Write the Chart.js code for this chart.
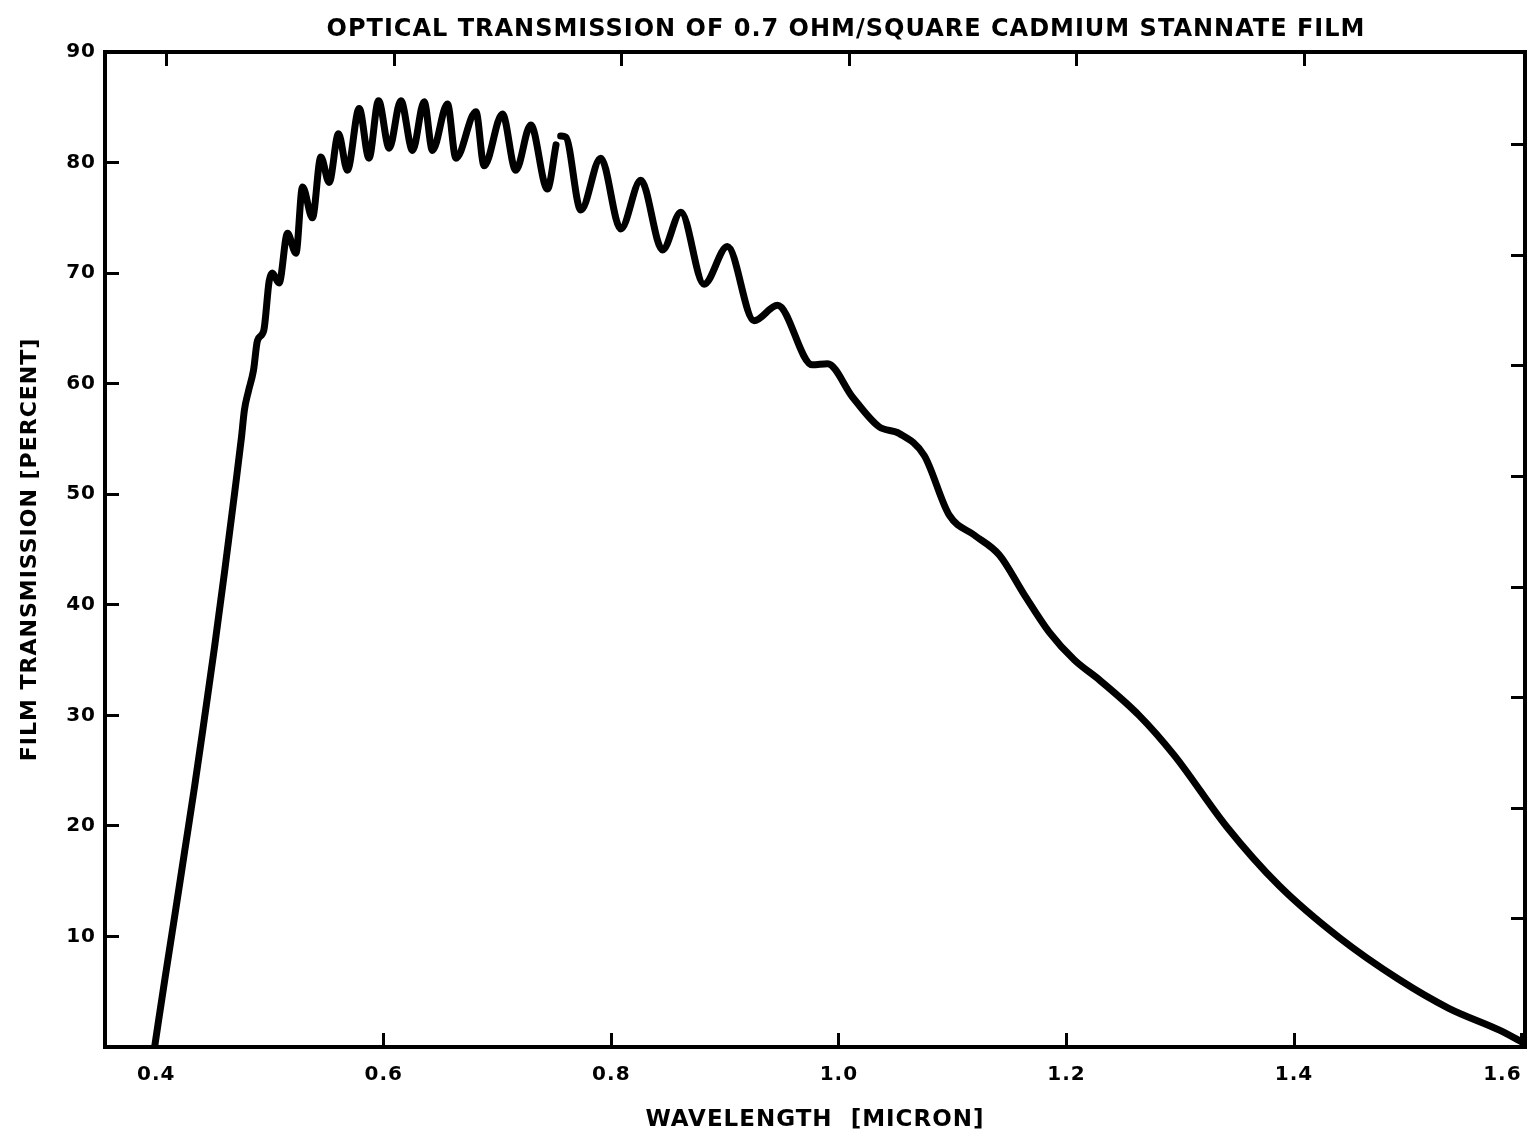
<!DOCTYPE html>
<html>
<head>
<meta charset="utf-8">
<script src="https://cdn.jsdelivr.net/npm/chart.js@4.4.1/dist/chart.umd.min.js"></script>
<style>
  body { margin: 0; background: #fff; }
  canvas { display: block; }
</style>
</head>
<body>
<canvas id="chart" width="1533" height="1145"></canvas>
<script>
const chartTitle = 'OPTICAL TRANSMISSION OF 0.7 OHM/SQUARE CADMIUM STANNATE FILM';
const xAxisLabel = 'WAVELENGTH  [MICRON]';
const yAxisLabel = 'FILM TRANSMISSION [PERCENT]';

const wavelengthTicks   = [0.4, 0.6, 0.8, 1.0, 1.2, 1.4, 1.6];
const transmissionTicks = [10, 20, 30, 40, 50, 60, 70, 80, 90];

// wavelength in micron (null = pen lift near 0.75)
const wavelength = [
    0.3986, 0.4074, 0.4162, 0.425, 0.4338, 0.4425, 0.4513, 0.4601, 0.4689, 0.4750,
    0.4775, 0.4810, 0.4855, 0.489, 0.4945, 0.4993, 0.502, 0.508, 0.5154, 0.5228,
    0.5286, 0.5373, 0.5447, 0.552, 0.5602, 0.568, 0.5784, 0.587, 0.5954, 0.6048,
    0.615, 0.6253, 0.6355, 0.6428, 0.656, 0.6634, 0.681, 0.6882, 0.7043, 0.716,
    0.7292, 0.7438, 0.7514, 0.753, 0.7555, 0.760, 0.7732, 0.7907, 0.8083, 0.8259,
    0.845, 0.8611, 0.8815, 0.902, 0.9255, 0.946, 0.9767, 0.99, 1.0119, 1.0353,
    1.053, 1.075, 1.097, 1.119, 1.141, 1.163, 1.185, 1.207, 1.229, 1.2638,
    1.2946, 1.341, 1.3868, 1.4396, 1.4923, 1.536, 1.581, 1.603
];
const transmission = [
    0.0, 6.0, 11.8, 17.7, 23.6, 29.8, 36.2, 43.0, 50.1, 55.2,
    57.6, 59.3, 61.2, 63.9, 64.8, 69.3, 70.0, 69.1, 73.6, 71.8,
    77.8, 75.0, 80.5, 78.2, 82.6, 79.3, 84.9, 80.4, 85.6, 81.3,
    85.6, 81.1, 85.5, 81.1, 85.3, 80.4, 84.6, 79.7, 84.4, 79.3,
    83.4, 77.6, 81.6, null, 82.4, 82.3, 75.7, 80.4, 74.0, 78.4,
    72.1, 75.5, 69.0, 72.4, 65.7, 67.1, 61.7, 61.8, 58.8, 56.1,
    55.5, 53.5, 48.1, 46.3, 44.5, 40.9, 37.5, 35.0, 33.2, 30.0,
    26.4, 19.9, 14.6, 9.9, 6.1, 3.5, 1.5, 0.3
];

function setTicks( values )
{
    return function(scale) { scale.ticks = values.map( (v) => { return {value: v}; } ); };
}

function getTransmissionGraph( canvas )
{
    const ink = '#000';
    const tickFont = { family: '"DejaVu Sans"', size: 20, weight: 'bold' };
    const xMin = 0.355, xMax = 1.603;

    let points = wavelength.map( (w, i) => { return {x: w, y: transmission[i]}; } );

    let frameGrid = { drawOnChartArea: false, tickLength: -14, tickWidth: 3, tickColor: ink, lineWidth: 3, color: ink };
    let frameBorder = { display: true, color: ink, width: 4 };

    // the old typewriter lettering is spaced out a bit
    const spacingPlugin = {
        id: 'letterSpacing',
        beforeUpdate: function(chart) { chart.ctx.letterSpacing = '1px'; },
        beforeDraw: function(chart) { chart.ctx.letterSpacing = '1px'; }
    };

    const titlePlugin = {
        id: 'scanTitle',
        afterDraw: function(chart)
        {
            let ctx = chart.ctx;
            ctx.save();
            ctx.font = 'bold 24px "DejaVu Sans"';
            ctx.fillStyle = ink;
            ctx.textAlign = 'center';
            ctx.textBaseline = 'middle';
            ctx.fillText(chartTitle, chart.chartArea.left + 741, 30);
            ctx.restore();
        }
    };

    let chart = new Chart(canvas,
        {
            type: 'line',
            data: {
                datasets: [{
                    data: points,
                    borderColor: ink,
                    borderWidth: 7,
                    borderCapStyle: 'round',
                    borderJoinStyle: 'round',
                    pointRadius: 0,
                    cubicInterpolationMode: 'monotone',
                    spanGaps: false,
                }]
            },
            options: {
                responsive: false,
                animation: false,
                layout: { padding: 0 },
                plugins: { legend: { display: false }, tooltip: { enabled: false } },
                scales: {
                    x: {
                        type: 'linear', position: 'bottom',
                        min: xMin, max: xMax,
                        // blank tick on the left edge so 'inner' only pulls the 1.6 label inside
                        afterBuildTicks: setTicks([xMin].concat(wavelengthTicks)),
                        afterFit: (s) => { s.height = 98; s.paddingLeft = 0; s.paddingRight = 0; },
                        grid: frameGrid, border: frameBorder,
                        ticks: {
                            color: ink, font: tickFont, padding: 30, maxRotation: 0, autoSkip: false, align: 'inner',
                            callback: (v) => (v < wavelengthTicks[0] ? '' : v.toFixed(1))
                        },
                        title: {
                            display: true, text: xAxisLabel, color: ink,
                            font: { family: '"DejaVu Sans"', size: 23, weight: 'bold' },
                            padding: {top: 0, bottom: 11}
                        }
                    },
                    // the scanned sheet is a little skewed: top and right tick rows sit slightly off
                    x2: {
                        type: 'linear', position: 'top',
                        min: xMin - 0.009, max: xMax - 0.009,
                        afterBuildTicks: setTicks(wavelengthTicks.filter( (v) => v < 1.55 )),
                        afterFit: (s) => { s.height = 52; s.paddingLeft = 0; s.paddingRight = 0; },
                        grid: frameGrid, border: frameBorder,
                        ticks: { display: false }
                    },
                    y: {
                        position: 'left',
                        min: 0, max: 90,
                        afterBuildTicks: setTicks(transmissionTicks),
                        afterFit: (s) => { s.width = 105; s.paddingTop = 0; s.paddingBottom = 0; },
                        grid: frameGrid, border: frameBorder,
                        ticks: { color: ink, font: tickFont, padding: 23 },
                        title: {
                            display: true, text: yAxisLabel, color: ink,
                            font: { family: '"DejaVu Sans"', size: 22, weight: 'bold' },
                            padding: {top: 17, bottom: 0}
                        }
                    },
                    y2: {
                        position: 'right',
                        min: -1.6, max: 88.4,
                        afterBuildTicks: setTicks(transmissionTicks.filter( (v) => v < 88 )),
                        afterFit: (s) => { s.width = 8; s.paddingTop = 0; s.paddingBottom = 0; },
                        grid: frameGrid, border: frameBorder,
                        ticks: { display: false }
                    }
                }
            },
            plugins: [spacingPlugin, titlePlugin]
        });
    return chart;
}

getTransmissionGraph(document.getElementById('chart'));
</script>
</body>
</html>
